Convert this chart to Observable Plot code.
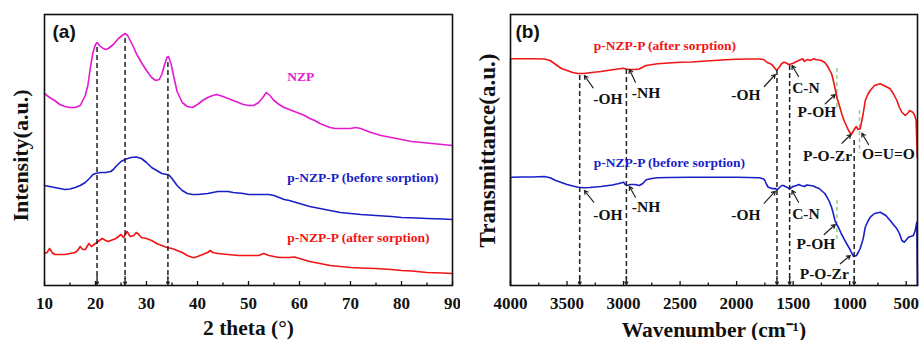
<!DOCTYPE html>
<html>
<head>
<meta charset="utf-8">
<script src="https://cdn.jsdelivr.net/npm/d3@7"></script>
<script src="https://cdn.jsdelivr.net/npm/@observablehq/plot@0.6"></script>
<style>
  html, body { margin: 0; padding: 0; background: #fff; }
  #wrap { display: flex; width: 921px; height: 340px; overflow: hidden; background: #fff; }
  #wrap svg { display: block; flex: none; }
</style>
</head>
<body>
<div id="wrap"></div>
<script>
// ---------------- (a) XRD data ----------------
const nzpTheta = [10,11,12,13,14,15,16,17,18,18.5,19,19.5,20,20.3,20.8,21.5,22,22.5,23,23.5,24,24.5,25,25.5,25.8,26.3,26.8,27.5,28,29,30,31,31.8,32.5,33,33.5,34,34.3,34.8,35.3,36,37,38,39,40,41,42,43,43.8,45,46,47,48,49,50,51,52,52.8,53.5,54.2,55,56,57,58,59,60,61,62,63,64,65,66,67,68,69,70,71,72,73,74,76,78,80,82,84,86,88,90];
const nzpInt   = [192,188,185,181,179,178,178,180,190,200,218,233,241,243,240,237,236,237,239,241,244,247,249,251,252,250,245,238,232,223,215,208,205,206,211,220,228,229,222,210,194,183,179,178,181,185,188,190,191,189,187,185,183,181,180,180,183,188,193,190,185,181,178,176,174,172,170,167,165,162,160,158,157,157,157,157,158,157,155,153,150,148,146,144,143,142,141,140];

const beforeTheta = [10,11,12,13,14,15,16,17,18,19,19.5,20,21,22,23,23.5,24,25,26,27,28,29,30,31,32,33,34,34.5,35,36,37,38,39,40,41,42,43,44,45,46,47,48,49,50,51,52,53,54,55,56,57,58,60,62,64,66,68,70,72,75,78,80,83,85,88,90];
const beforeInt   = [100,99,98,97,96,96.5,98,100,103,108,111,112,113,113,114,116,119,124,126.5,128,128.5,127,123,118,115,112,111,110,107,100,95,92,91,91,91.5,92,93,94,94,94,93,92.5,92,91,91,91,91,91,90,88,86,85,82,79,77,75,73,72,71,70,69,68,67.5,67,66.5,66];

const afterTheta = [10,10.5,11,11.5,12,13,14,15,16,16.5,17,17.5,18,18.7,19.2,20,20.5,21.3,22,22.5,23,24,24.5,25,25.5,26.2,26.8,27.5,28,28.5,29,30,31,32,33,34,35,36,37,38,39,39.5,40,41,42,42.5,43,44,46,48,50,52,53,54,56,58,59,60,62,64,66,68,70,72,75,78,80,82,85,88,90];
const afterInt   = [32,33,37,33,31,31,31,32,33,35,39,36,36,42,39,42,44,47,45,44,45,47,49,51,48,54,49,50,53,51,48,47,45,42,40,38,37,35,33,30,28,28,29,31,33,35,33,32,31,30,30,30,32,30,28,28,28.5,27,24,22,20,19,18,17.5,17,16,15,14.5,13,12.5,12];

const xrdTicks = [10,20,30,40,50,60,70,80,90];
const xrdMinorTicks = [15,25,35,45,55,65,75,85];
const xrdPeakTheta = [20.3, 25.8, 34.2];
const xrdPeakTop = [238, 247, 223];
const xrdLabels = ["NZP", "p-NZP-P (before sorption)", "p-NZP-P (after sorption)"];
const xrdLabelTheta = [57.6, 57.6, 57.6];
const xrdLabelInt = [209, 108, 48];

// ---------------- (b) FTIR data ----------------
const ftirAfterWn = [4000,4000,3900,3800,3700,3650,3600,3550,3500,3450,3400,3350,3300,3200,3100,3000,2980,2950,2900,2860,2820,2800,2700,2600,2500,2400,2300,2200,2100,2000,1900,1800,1760,1730,1700,1680,1660,1645,1625,1600,1580,1560,1540,1520,1500,1470,1450,1430,1415,1400,1385,1370,1350,1330,1315,1300,1250,1220,1200,1180,1160,1140,1125,1110,1100,1070,1050,1030,1010,985,965,942,925,907,880,862,840,818,780,730,680,642,610,582,560,538,509,480,471,441,425,412,402];
const ftirAfterT  = [110,226.7,226.7,226.8,226.5,225,221,217,215,213,212,212,212.7,214,215.7,217.3,216.5,216,216,216.5,219,220,221.7,222.5,223.3,223.5,224.3,225,225.7,226.3,226.5,226.5,226,223,221.7,220,217,215,218,222,223.3,222.5,221,221.5,222.3,224,225,226,226.7,224,225.5,226,225,226,226.7,226,225,223,220,216,211.7,203,195,187,183.3,171.7,165,160,155,151,155,159,156,156.7,172,185,191,195,200,201.7,199,196.7,191,185,178,173.3,170,173,175,173.3,170,165,128];

const ftirBeforeWn = [4000,4000,3900,3800,3700,3650,3600,3550,3500,3450,3400,3350,3300,3200,3100,3050,3000,2985,2970,2940,2900,2860,2830,2800,2750,2700,2600,2400,2200,2000,1800,1760,1750,1735,1720,1700,1680,1660,1640,1620,1600,1585,1570,1550,1530,1515,1500,1470,1450,1430,1400,1380,1350,1320,1300,1270,1250,1220,1200,1180,1160,1145,1130,1115,1100,1075,1050,1025,1000,980,965,950,940,920,907,880,862,840,818,780,730,680,642,610,582,560,538,518,500,480,460,436,420,406,400];
const ftirBeforeT  = [0,108.3,108.5,108.5,109,107.7,105,103,101,99.5,98.3,97.7,98,99,100.5,101.7,103.3,101,100,101,101,100,102,105.7,107,107.7,108,108.3,108.3,108.3,107.7,106.5,105,101,98.3,97.5,96.7,97,95.7,98,100,100,99,98,96.7,98,99,100,101,100,99,100.5,100,99.5,98.3,97,95,92,88.3,84,78.3,72,65,61,58.3,52,46.7,41.5,36.7,32,29,29.5,30,34,37,47,58.3,64,68.3,72,73.3,70,65,60.5,56.7,52,45,43.3,45.5,48.3,49,50,55,63.3,0];

const ftirTicks = [4000,3500,3000,2500,2000,1500,1000,500];
const ftirMinorTicks = [3750,3250,2750,2250,1750,1250,750];
const ftirBandWn = [3388, 2975, 1643, 1531, 960];
const ftirBandTop = [210, 216, 215, 220, 145];
const greenWn = [1113, 1113, 913];
const greenTop = [217, 85, 175];
const greenBottom = [175, 43, 132];

const annText = ["-OH","-NH","-OH","C-N","P-OH","P-O-Zr","O=U=O","-OH","-NH","-OH","C-N","P-OH","P-O-Zr"];
const annWn   = [3138,2801,1917,1387,1289,1196,657,3138,2801,1917,1387,1298,1225];
const annT    = [186,192.7,190,197.7,173,129.3,131.7,70.7,78,70.7,71.3,41.7,11.7];

const pointerWn1 = [3269,2895,1755,1452,1216,1068,833,3264,2895,1755,1452,1225,1083];
const pointerT1  = [197.7,203.3,199,209,181.7,142.3,141,83.3,88.3,82.3,83.3,51,21.7];
const pointerWn2 = [3346,2948,1658,1510,1128,989,892,3346,2948,1658,1510,1128,995];
const pointerT2  = [210,216,211,220,191,151,152.3,95,99,94.3,95,61,30];

const ftirLabels = ["p-NZP-P (after sorption)", "p-NZP-P (before sorption)"];
const ftirLabelWn = [3264, 3264];
const ftirLabelT = [240, 123.3];

// ---------------- colours ----------------
const C_NZP = "#e41ad0", C_BLUE = "#1a1ec8", C_RED = "#f01414", C_GREEN = "#8fd08f", C_INK = "#111";

// ---------------- helpers ----------------
const rows = (xs, ys) => xs.map((x, i) => ({x, y: ys[i]}));
const zipRows = (obj) => { const keys = Object.keys(obj); return obj[keys[0]].map((_, i) => Object.fromEntries(keys.map(k => [k, obj[k][i]]))); };

const serif = "'Liberation Serif', 'Times New Roman', serif";
const sans = "'Liberation Sans', Arial, sans-serif";

// ---------------- panel (a) ----------------
const peaks = zipRows({x: xrdPeakTheta, top: xrdPeakTop});
const plotA = Plot.plot({
  width: 460, height: 340,
  marginLeft: 44, marginRight: 8, marginTop: 14, marginBottom: 55,
  x: {domain: [10, 90], ticks: xrdTicks, tickSize: 0, tickPadding: 11, tickFormat: d => String(d), label: null},
  y: {domain: [0, 271], axis: null},
  style: {fontFamily: serif, fontWeight: "bold", fontSize: "17px", color: C_INK, background: "white", overflow: "visible"},
  marks: [
    Plot.line(rows(nzpTheta, nzpInt), {x: "x", y: "y", stroke: C_NZP, strokeWidth: 1.6}),
    Plot.line(rows(beforeTheta, beforeInt), {x: "x", y: "y", stroke: C_BLUE, strokeWidth: 1.6}),
    Plot.line(rows(afterTheta, afterInt), {x: "x", y: "y", stroke: C_RED, strokeWidth: 1.6}),
    Plot.ruleX(peaks, {x: "x", y1: "top", y2: 6, stroke: "#222", strokeWidth: 1.5, strokeDasharray: "5,3"}),
    Plot.arrow(peaks, {x: "x", y1: 9, y2: 1, stroke: "#222", strokeWidth: 1.4, headLength: 6}),
    Plot.ruleX(xrdTicks, {x: d => d, y1: 0, y2: 4, stroke: C_INK, strokeWidth: 1.3}),
    Plot.ruleX(xrdMinorTicks, {x: d => d, y1: 0, y2: 2.5, stroke: C_INK, strokeWidth: 1.3}),
    Plot.frame({stroke: C_INK, strokeWidth: 1.6}),
    Plot.text(zipRows({x: xrdLabelTheta, y: xrdLabelInt, t: xrdLabels, c: [C_NZP, C_BLUE, C_RED]}),
      {x: "x", y: "y", text: "t", fill: d => d.c, textAnchor: "start", fontSize: 13.5, fontWeight: "bold"}),
    Plot.text(["(a)"], {frameAnchor: "top-left", dx: 8, dy: 10, textAnchor: "start", fontSize: 19, fontWeight: "bold", fontFamily: sans}),
    Plot.text(["2 theta (°)"], {frameAnchor: "bottom", dy: 49, fontSize: 21.5, fontWeight: "bold"}),
    Plot.text(["Intensity(a.u.)"], {frameAnchor: "left", textAnchor: "middle", lineAnchor: "middle", dx: -24, dy: 5.5, rotate: -90, fontSize: 22, fontWeight: "bold"})
  ]
});

// ---------------- panel (b) ----------------
const bands = zipRows({x: ftirBandWn, top: ftirBandTop});
const greens = zipRows({x: greenWn, y1: greenTop, y2: greenBottom});
const anns = zipRows({x: annWn, y: annT, t: annText});
const pointers = zipRows({x1: pointerWn1, y1: pointerT1, x2: pointerWn2, y2: pointerT2});
const plotB = Plot.plot({
  width: 461, height: 340,
  marginLeft: 50, marginRight: 4, marginTop: 14, marginBottom: 55,
  x: {domain: [4000, 400], ticks: ftirTicks, tickSize: 0, tickPadding: 11, tickFormat: d => String(d), label: null},
  y: {domain: [0, 271], axis: null},
  style: {fontFamily: serif, fontWeight: "bold", fontSize: "17px", color: C_INK, background: "white", overflow: "visible"},
  marks: [
    Plot.ruleX(greens, {x: "x", y1: "y1", y2: "y2", stroke: C_GREEN, strokeWidth: 1.5, strokeDasharray: "4,3"}),
    Plot.line(rows(ftirBeforeWn, ftirBeforeT), {x: "x", y: "y", stroke: C_BLUE, strokeWidth: 1.6}),
    Plot.line(rows(ftirAfterWn, ftirAfterT), {x: "x", y: "y", stroke: C_RED, strokeWidth: 1.6}),
    Plot.ruleX(bands, {x: "x", y1: "top", y2: 6, stroke: "#222", strokeWidth: 1.5, strokeDasharray: "5,3"}),
    Plot.arrow(bands, {x: "x", y1: 9, y2: 1, stroke: "#222", strokeWidth: 1.4, headLength: 6}),
    Plot.arrow(pointers, {x1: "x1", y1: "y1", x2: "x2", y2: "y2", stroke: "#222", strokeWidth: 1.2, headLength: 5}),
    Plot.text(anns, {x: "x", y: "y", text: "t", fontSize: 15.5, fontWeight: "bold", fill: C_INK}),
    Plot.ruleX(ftirTicks, {x: d => d, y1: 0, y2: 4, stroke: C_INK, strokeWidth: 1.3}),
    Plot.ruleX(ftirMinorTicks, {x: d => d, y1: 0, y2: 2.5, stroke: C_INK, strokeWidth: 1.3}),
    Plot.frame({stroke: C_INK, strokeWidth: 1.6}),
    Plot.text(zipRows({x: ftirLabelWn, y: ftirLabelT, t: ftirLabels, c: [C_RED, C_BLUE]}),
      {x: "x", y: "y", text: "t", fill: d => d.c, textAnchor: "start", fontSize: 13.5, fontWeight: "bold"}),
    Plot.text(["(b)"], {frameAnchor: "top-left", dx: 5, dy: 10, textAnchor: "start", fontSize: 19, fontWeight: "bold", fontFamily: sans}),
    Plot.text(["Wavenumber (cm⁻¹)"], {frameAnchor: "bottom", dy: 51, fontSize: 21.5, fontWeight: "bold"}),
    Plot.text(["Transmittance(a.u.)"], {frameAnchor: "left", textAnchor: "middle", lineAnchor: "middle", dx: -23, dy: 0.5, rotate: -90, fontSize: 23, fontWeight: "bold"})
  ]
});

const wrap = document.getElementById("wrap");
wrap.appendChild(plotA);
wrap.appendChild(plotB);
</script>
</body>
</html>
